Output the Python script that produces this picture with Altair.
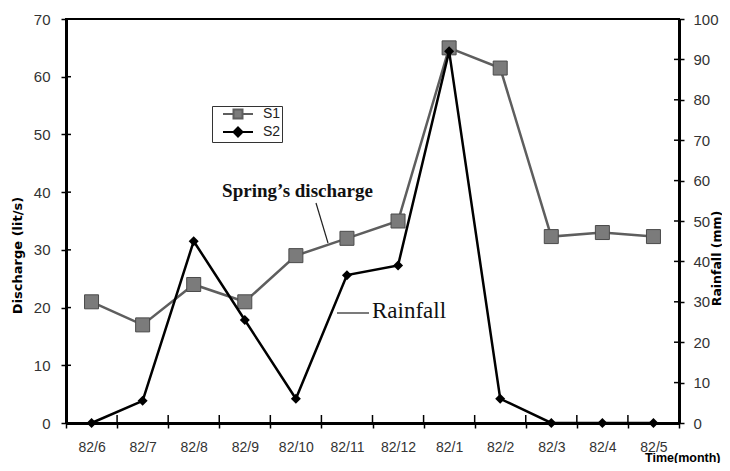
import altair as alt
import pandas as pd

# ---- data ----
months = ["82/6", "82/7", "82/8", "82/9", "82/10", "82/11",
          "82/12", "82/1", "82/2", "82/3", "82/4", "82/5"]
s1_discharge = [21, 17, 24, 21, 29, 32, 35, 65, 61.5, 32.3, 33, 32.3]   # lit/s (left axis)
s2_rainfall = [0, 5.5, 45, 25.5, 6, 36.6, 39, 92, 6, 0, 0, 0]          # mm (right axis)
left_ticks = [0, 10, 20, 30, 40, 50, 60, 70]
right_ticks = [0, 10, 20, 30, 40, 50, 60, 70, 80, 90, 100]
series_names = ["S1", "S2"]
spring_label = ["Spring\u2019s discharge"]
rain_label = ["Rainfall"]

df = pd.DataFrame({"month": months, "S1": s1_discharge, "S2": s2_rainfall})
df_left_ticks = pd.DataFrame({"S1": left_ticks})
df_right_ticks = pd.DataFrame({"S2": right_ticks})
df_months = pd.DataFrame({"month": months})
df_last = pd.DataFrame({"month": months[-1:]})
df_series = pd.DataFrame({"series": series_names})

W, H = 613, 404
TICK_FONT = "Liberation Sans"

x_axis = alt.Axis(
    title="Time(month)", titleX=654, titleY=38, titleAlign="right",
    titleBaseline="alphabetic", titleFont="Liberation Sans", titleFontWeight="bold",
    titleFontSize=12.5, titleColor="black",
    tickBand="extent", labelAngle=0, labelPadding=12, labelFont=TICK_FONT,
    labelFontSize=14, labelColor="#333", tickSize=5, tickWidth=1.5, tickColor="black",
    domainColor="black", domainWidth=3, grid=False,
)
x_scale = alt.Scale(type="band", paddingInner=0, paddingOuter=0)


def xenc(bp=0.5):
    return alt.X("month:O", sort=months, scale=x_scale, axis=x_axis, bandPosition=bp)


left_axis = alt.Axis(
    orient="left", values=left_ticks, title="Discharge (lit/s)",
    titleX=-49, titleY=236, titleAngle=270, titleAlign="center", titleBaseline="middle",
    titleFont="DejaVu Sans", titleFontWeight="bold", titleFontSize=13, titleColor="black",
    labelPadding=11, labelFont=TICK_FONT, labelFontSize=15, labelColor="#333",
    tickSize=5, tickWidth=1.5, tickColor="black", domainColor="black", domainWidth=3,
    grid=False,
)
right_axis = alt.Axis(
    orient="right", values=right_ticks, title="Rainfall (mm)",
    titleX=37, titleY=239, titleAngle=270, titleAlign="center", titleBaseline="middle",
    titleFont="DejaVu Sans", titleFontWeight="bold", titleFontSize=12.5, titleColor="black",
    labelPadding=9, labelFont=TICK_FONT, labelFontSize=15, labelColor="#333",
    tickSize=5, tickWidth=1.5, tickColor="black", domainColor="black", domainWidth=3,
    grid=False,
)

y_left = alt.Y("S1:Q", scale=alt.Scale(domain=[0, 70], nice=False), axis=left_axis)
y_right = alt.Y("S2:Q", scale=alt.Scale(domain=[0, 100], nice=False), axis=right_axis)

base = alt.Chart(df)

s1_line = base.mark_line(color="#5e5e5e", strokeWidth=2.5).encode(x=xenc(), y=y_left)
s1_pts = base.mark_square(size=196, color="#7b7b7b", stroke="#4a4a4a",
                          strokeWidth=1, opacity=1).encode(x=xenc(), y=y_left)
left_inner = alt.Chart(df_left_ticks).mark_rule(color="black", strokeWidth=1.5).encode(
    y=y_left, x=alt.value(0), x2=alt.value(5))

s2_line = base.mark_line(color="black", strokeWidth=2.5).encode(x=xenc(), y=y_right)
s2_pts = base.mark_point(shape="diamond", filled=True, size=100, color="black",
                         opacity=1).encode(x=xenc(), y=y_right)
right_inner = alt.Chart(df_right_ticks).mark_rule(color="black", strokeWidth=1.5).encode(
    y=y_right, x=alt.value(W - 5), x2=alt.value(W))

x_inner = alt.Chart(df_months).mark_rule(color="black", strokeWidth=1.5).encode(
    x=xenc(0), y=alt.value(H - 8), y2=alt.value(H))
x_inner_last = alt.Chart(df_last).mark_rule(color="black", strokeWidth=1.5).encode(
    x=xenc(1), y=alt.value(H - 8), y2=alt.value(H))

# legend (symbols: line + marker)
path_s1 = "M-3,0H-0.9M0.9,0H3M-0.9,-0.9H0.9V0.9H-0.9Z"
path_s2 = "M-3,0H3M0,-0.9L0.9,0L0,0.9L-0.9,0Z"
leg = alt.Legend(
    orient="none", legendX=146, legendY=87, title=None, strokeColor="#333",
    fillColor="white", padding=1, symbolSize=100, symbolStrokeWidth=2,
    symbolOffset=18, labelOffset=18, rowPadding=0, labelFont=TICK_FONT,
    labelFontSize=14, labelColor="#222",
)
legend_layer = alt.Chart(df_series).transform_filter("false").mark_point(
    filled=True, opacity=1).encode(
    shape=alt.Shape("series:N", scale=alt.Scale(domain=series_names,
                    range=[path_s1, path_s2]), legend=leg),
    fill=alt.Fill("series:N", scale=alt.Scale(domain=series_names,
                  range=["#7b7b7b", "#000000"]), legend=leg),
    stroke=alt.Stroke("series:N", scale=alt.Scale(domain=series_names,
                      range=["#5e5e5e", "#000000"]), legend=leg),
)

# annotations
spring_text = alt.Chart(pd.DataFrame({"t": spring_label})).mark_text(
    font="Liberation Serif", fontWeight="bold", fontSize=19, align="center",
    baseline="alphabetic", color="#111").encode(
    text="t:N", x=alt.value(231.5), y=alt.value(178))
spring_rule = alt.Chart(pd.DataFrame({"t": spring_label})).mark_rule(
    color="#222", strokeWidth=1.2).encode(
    x=alt.value(250), y=alt.value(184), x2=alt.value(262), y2=alt.value(224))
rain_text = alt.Chart(pd.DataFrame({"t": rain_label})).mark_text(
    font="Liberation Serif", fontSize=23, align="left",
    baseline="alphabetic", color="#111").encode(
    text="t:N", x=alt.value(306), y=alt.value(299))
rain_rule = alt.Chart(pd.DataFrame({"t": rain_label})).mark_rule(
    color="#222", strokeWidth=1.2).encode(
    x=alt.value(271), y=alt.value(294), x2=alt.value(303), y2=alt.value(294))

left = alt.layer(s1_line, s1_pts, left_inner)
right = alt.layer(s2_line, s2_pts, right_inner)

chart = alt.layer(
    left, right, x_inner, x_inner_last, legend_layer,
    spring_rule, spring_text, rain_rule, rain_text,
).resolve_scale(y="independent").properties(
    width=W, height=H,
    autosize=alt.AutoSizeParams(type="none"),
    padding={"left": 58, "top": 11, "right": 43, "bottom": 40},
    background="white",
).configure_view(stroke="black", strokeWidth=2)

chart.save("out.html", embed_options={"renderer": "svg", "actions": False})
